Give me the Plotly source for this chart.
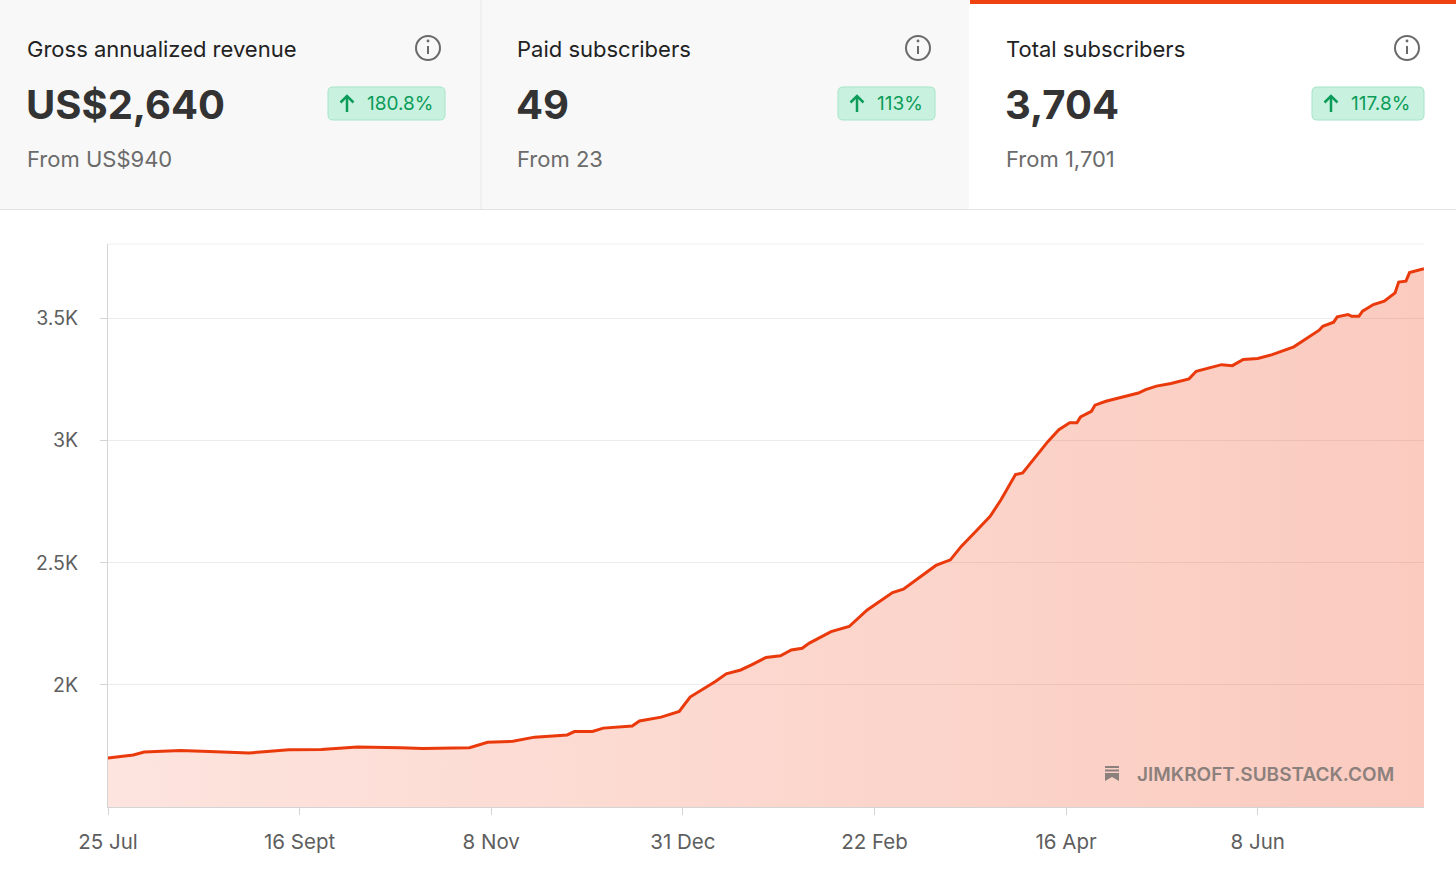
import pandas as pd
import plotly.graph_objects as go

# --- 資料 ---
start_date = "2022-07-25"
day_offset = [0, 7, 10, 20, 28, 39, 44, 50, 59, 69,
              81, 87, 100, 105, 112, 118, 127, 129, 134, 137,
              145, 147, 153, 158, 161, 165, 168, 171, 175, 178,
              182, 186, 189, 192, 194, 200, 205, 210, 214, 217,
              220, 225, 229, 233, 236, 240, 244, 247, 251, 253,
              256, 259, 260, 263, 266, 268, 269, 272, 273, 276,
              281, 285, 287, 290, 294, 299, 301, 304, 308, 311,
              314, 318, 322, 328, 332, 335, 336, 339, 340, 343,
              344, 346, 347, 350, 353, 356, 357, 359, 360, 362,
              364]
subscribers = [1701, 1713, 1725, 1731, 1727, 1721, 1727, 1734, 1735, 1746,
               1743, 1739, 1743, 1765, 1769, 1786, 1795, 1809, 1809, 1823,
               1832, 1852, 1868, 1891, 1950, 1986, 2014, 2045, 2061, 2082,
               2112, 2119, 2143, 2150, 2171, 2218, 2239, 2307, 2348, 2378,
               2392, 2444, 2489, 2512, 2567, 2628, 2690, 2758, 2861, 2868,
               2922, 2977, 2997, 3045, 3073, 3073, 3097, 3120, 3145, 3161,
               3179, 3195, 3209, 3223, 3234, 3253, 3284, 3295, 3311, 3307,
               3332, 3336, 3352, 3384, 3421, 3452, 3468, 3485, 3507, 3516,
               3509, 3509, 3530, 3557, 3571, 3605, 3649, 3653, 3688, 3697,
               3704]

tick_dates = ["2022-07-25", "2022-09-16", "2022-11-08", "2022-12-31",
              "2023-02-22", "2023-04-16", "2023-06-08"]
tick_labels = ["25 Jul", "16 Sept", "8 Nov", "31 Dec", "22 Feb", "16 Apr", "8 Jun"]
y_ticks = [2000, 2500, 3000, 3500]
y_labels = ["2K", "2.5K", "3K", "3.5K"]

card_titles = ["Gross annualized revenue", "Paid subscribers", "Total subscribers"]
card_values = ["US$2,640", "49", "3,704"]
card_from = ["From US$940", "From 23", "From 1,701"]
card_change = ["180.8%", "113%", "117.8%"]

dates = pd.to_datetime(start_date) + pd.to_timedelta(day_offset, unit="D")

# --- 版面 ---
W, H = 1456, 883
L, R, T, B = 108, 1424, 244, 807
FONT = "Inter, Roboto, sans-serif"
ORANGE = "#ea3a0c"
GREEN = "#0b9c59"


def px(x):
    return (x - L) / (R - L)


def py(y):
    return (B - y) / (B - T)


def rounded(x0, y0, x1, y1, r):
    pts = [
        ("M", x0 + r, y0), ("L", x1 - r, y0), ("Q", x1, y0, x1, y0 + r),
        ("L", x1, y1 - r), ("Q", x1, y1, x1 - r, y1), ("L", x0 + r, y1),
        ("Q", x0, y1, x0, y1 - r), ("L", x0, y0 + r), ("Q", x0, y0, x0 + r, y0),
    ]
    out = ""
    for p in pts:
        if p[0] == "Q":
            out += f"Q{px(p[1])},{py(p[2])} {px(p[3])},{py(p[4])} "
        else:
            out += f"{p[0]}{px(p[1])},{py(p[2])} "
    return out + "Z"


fig = go.Figure()

fig.add_trace(go.Scatter(
    x=dates, y=subscribers, mode="lines",
    line=dict(color=ORANGE, width=3),
    fill="tozeroy",
    fillgradient=dict(type="horizontal",
                      colorscale=[[0, "rgba(240,75,35,0.15)"], [1, "rgba(240,75,35,0.29)"]]),
    hoverinfo="skip", showlegend=False,
))

shapes = []
annotations = []

# 卡片背景
shapes.append(dict(type="rect", xref="paper", yref="paper", x0=px(0), x1=px(969), y0=py(209), y1=py(0),
                   fillcolor="#f8f8f8", line_width=0, layer="below"))
shapes.append(dict(type="line", xref="paper", yref="paper", x0=px(481), x1=px(481), y0=py(209), y1=py(0),
                   line=dict(color="#e8e8e8", width=1)))
shapes.append(dict(type="line", xref="paper", yref="paper", x0=px(0), x1=px(W), y0=py(209.5), y1=py(209.5),
                   line=dict(color="#e3e3e3", width=1)))
shapes.append(dict(type="rect", xref="paper", yref="paper", x0=px(970), x1=px(W), y0=py(4), y1=py(0),
                   fillcolor="#ee4211", line_width=0))

card_x = [26, 516, 1005]
icon_x = [428, 918, 1407]
badge_x = [(328, 445), (838, 935), (1312, 1424)]
for i in range(3):
    cx = card_x[i]
    annotations.append(dict(xref="paper", yref="paper", x=px(cx - 1), y=py(49), text=card_titles[i],
                            showarrow=False, xanchor="left", yanchor="middle",
                            font=dict(family=FONT, size=22, color="#222222")))
    annotations.append(dict(xref="paper", yref="paper", x=px(cx - 2), y=py(104), text=f"<b>{card_values[i]}</b>",
                            showarrow=False, xanchor="left", yanchor="middle",
                            font=dict(family=FONT, size=40, color="#333333")))
    annotations.append(dict(xref="paper", yref="paper", x=px(cx - 1), y=py(159), text=card_from[i],
                            showarrow=False, xanchor="left", yanchor="middle",
                            font=dict(family=FONT, size=22, color="#6b6b6b")))
    # 資訊圖示
    ix = icon_x[i]
    shapes.append(dict(type="circle", xref="paper", yref="paper", x0=px(ix - 12), x1=px(ix + 12),
                       y0=py(48 + 12), y1=py(48 - 12), line=dict(color="#6a6a6a", width=2)))
    shapes.append(dict(type="line", xref="paper", yref="paper", x0=px(ix), x1=px(ix), y0=py(46), y1=py(54),
                       line=dict(color="#6a6a6a", width=2)))
    shapes.append(dict(type="circle", xref="paper", yref="paper", x0=px(ix - 1.4), x1=px(ix + 1.4),
                       y0=py(42.4), y1=py(39.6), fillcolor="#6a6a6a", line_width=0))
    # 成長徽章
    bx0, bx1 = badge_x[i]
    shapes.append(dict(type="path", xref="paper", yref="paper", path=rounded(bx0, 87, bx1, 120, 5),
                       fillcolor="#c9f1e0", line=dict(color="#a4e6c7", width=1)))
    ax = bx0 + 19
    shapes.append(dict(type="line", xref="paper", yref="paper", x0=px(ax), x1=px(ax), y0=py(112), y1=py(96),
                       line=dict(color=GREEN, width=2.5)))
    shapes.append(dict(type="path", xref="paper", yref="paper",
                       path=f"M{px(ax - 6.5)},{py(102.5)} L{px(ax)},{py(96)} L{px(ax + 6.5)},{py(102.5)}",
                       line=dict(color=GREEN, width=2.5)))
    annotations.append(dict(xref="paper", yref="paper", x=px(bx0 + 37), y=py(103.5), text=card_change[i],
                            showarrow=False, xanchor="left", yanchor="middle",
                            font=dict(family=FONT, size=19, color=GREEN)))

# 圖表頂線
shapes.append(dict(type="line", xref="paper", yref="paper", x0=0, x1=1, y0=1, y1=1,
                   line=dict(color="#efefef", width=1)))

# 浮水印
WM = "#8c807c"
shapes.append(dict(type="rect", xref="paper", yref="paper", x0=px(1105), x1=px(1119), y0=py(768), y1=py(766),
                   fillcolor=WM, line_width=0))
shapes.append(dict(type="rect", xref="paper", yref="paper", x0=px(1105), x1=px(1119), y0=py(771.5), y1=py(769.5),
                   fillcolor=WM, line_width=0))
shapes.append(dict(type="path", xref="paper", yref="paper",
                   path=f"M{px(1105)},{py(773)} L{px(1119)},{py(773)} L{px(1119)},{py(781)} "
                        f"L{px(1112)},{py(777)} L{px(1105)},{py(781)} Z",
                   fillcolor=WM, line_width=0))
annotations.append(dict(xref="paper", yref="paper", x=px(1396), y=py(774), text="JIMKROFT.SUBSTACK.COM",
                        showarrow=False, xanchor="right", yanchor="middle",
                        font=dict(family=FONT, size=19, color=WM, weight=600)))

fig.update_layout(
    width=W, height=H,
    margin=dict(l=L, r=W - R, t=T, b=H - B, pad=0),
    paper_bgcolor="white", plot_bgcolor="white",
    shapes=shapes, annotations=annotations,
    showlegend=False,
)

fig.update_xaxes(
    range=["2022-07-25", "2023-07-24"],
    tickvals=pd.to_datetime(tick_dates), ticktext=tick_labels,
    ticks="outside", ticklen=7, tickcolor="#d4d4d4",
    showline=True, linecolor="#d4d4d4", linewidth=1,
    showgrid=False, zeroline=False,
    tickfont=dict(family=FONT, size=20.5, color="#5e5e5e"),
    ticklabelstandoff=9,
)
fig.update_yaxes(
    range=[1500, 3805],
    tickvals=y_ticks, ticktext=y_labels,
    ticks="outside", ticklen=7, tickcolor="#d4d4d4",
    showline=True, linecolor="#d4d4d4", linewidth=1,
    showgrid=True, gridcolor="#ececec", gridwidth=1, zeroline=False,
    tickfont=dict(family=FONT, size=19.5, color="#5e5e5e"),
    ticklabelstandoff=18,
)

fig.write_html("out.html", config={"displayModeBar": False},
               post_script="document.body.style.margin='0';")
